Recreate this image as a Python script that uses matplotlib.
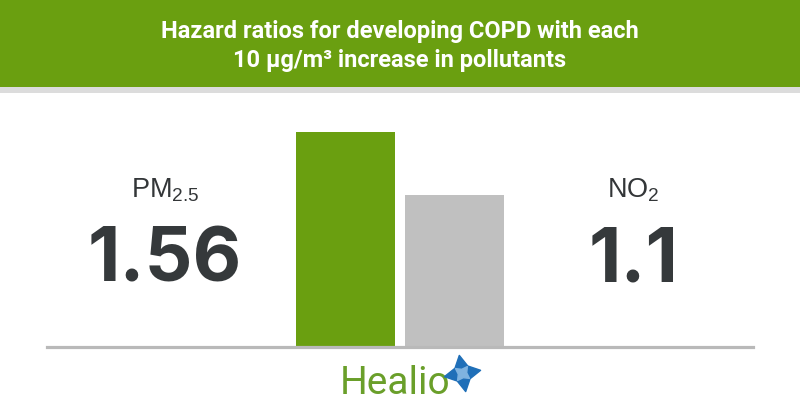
import matplotlib.pyplot as plt
from matplotlib.patches import Rectangle

# data
pollutants = ["PM$_{2.5}$", "NO$_2$"]
hazard_ratios = [1.56, 1.1]
bar_colors = ["#6a9f10", "#c0c0c0"]
title = "Hazard ratios for developing COPD with each\n10 \u00b5g/m\u00b3 increase in pollutants"

plt.rcParams["font.family"] = ["Liberation Sans", "DejaVu Sans"]
plt.rcParams["mathtext.default"] = "regular"

W, H = 800, 420
fig = plt.figure(figsize=(W / 100, H / 100), dpi=100)

# background axes in pixel coords (y down)
bg = fig.add_axes([0, 0, 1, 1])
bg.set_xlim(0, W)
bg.set_ylim(H, 0)
bg.axis("off")
bg.add_patch(Rectangle((0, 0), W, 87, color="#6a9f10", lw=0))
bg.add_patch(Rectangle((0, 87), W, 6, color="#dcdcdc", lw=0))
bg.text(400, 46, title, ha="center", va="center", color="white", fontsize=17,
        fontweight="bold", family=["Roboto", "DejaVu Sans"], linespacing=1.35)

# bar axes: baseline at y=347px, 137.8 px per unit
ax_left, ax_right = 47, 753
base_y = 347
top = 1.6
ax = fig.add_axes([ax_left / W, (H - base_y) / H, (ax_right - ax_left) / W, top * 137.8 / H])
ax.set_xlim(-2.739, 3.739)
ax.set_ylim(0, top)
ax.bar(range(len(hazard_ratios)), hazard_ratios, width=0.908, color=bar_colors)
ax.axhline(0, color="#b9b9b9", lw=2.3, clip_on=False)
ax.axis("off")

# value labels at either side
label_x = [165, 633]
for x, name, val in zip(label_x, pollutants, hazard_ratios):
    bg.text(x, 197, name, ha="center", va="baseline", fontsize=19.5, color="#333638")
    bg.text(x, 282, "{:g}".format(val), ha="center", va="baseline", fontsize=54,
            fontweight="bold", color="#35393b", family=["Inter", "Liberation Sans"])

# logo
bg.text(395, 394, "Healio", ha="center", va="baseline", fontsize=28, color="#6a9f2a",
        family=["Roboto", "Liberation Sans"])
bg.scatter([462], [373], marker=(4, 1, 10), s=700, color="#1f6fb8", zorder=3)
bg.scatter([462], [373], marker=(4, 1, 55), s=150, color="#7fb3e0", zorder=4)

fig.savefig("out.png", dpi=100)
